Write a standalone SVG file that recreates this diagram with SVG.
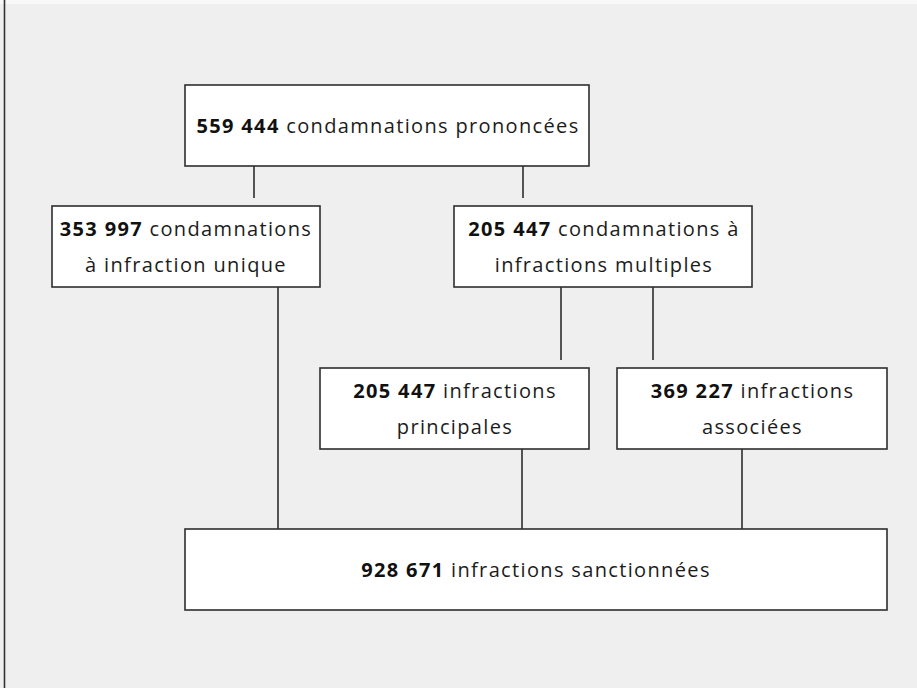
<svg xmlns="http://www.w3.org/2000/svg" width="917" height="688" viewBox="0 0 917 688">
  <style>
    .box { fill: #ffffff; stroke: #2e2e2e; stroke-width: 1.6; }
    .conn { stroke: #2e2e2e; stroke-width: 1.6; fill: none; }
    text { font-family: "Open Sans", "Noto Sans", "DejaVu Sans", sans-serif; font-size: 20px; letter-spacing: 1.35px; fill: #1c1c1c; text-anchor: middle; }
    .b { font-weight: bold; fill: #111111; }
  </style>
  <rect x="0" y="0" width="917" height="688" fill="#efefef"/>
  <rect x="0" y="0" width="917" height="4" fill="#f8f8f8"/>
  <line x1="4.5" y1="0" x2="4.5" y2="688" stroke="#333333" stroke-width="1.6"/>

  <g id="connectors">
    <line class="conn" x1="254" y1="166" x2="254" y2="198"/>
    <line class="conn" x1="523" y1="166" x2="523" y2="198"/>
    <line class="conn" x1="278" y1="287" x2="278" y2="530"/>
    <line class="conn" x1="561" y1="287" x2="561" y2="360"/>
    <line class="conn" x1="653" y1="287" x2="653" y2="360"/>
    <line class="conn" x1="522" y1="449" x2="522" y2="529"/>
    <line class="conn" x1="742" y1="449" x2="742" y2="529"/>
  </g>

  <g id="node-prononcees">
    <rect class="box" x="185" y="85" width="404" height="81"/>
    <text x="388" y="133"><tspan class="b">559 444</tspan> condamnations prononcées</text>
  </g>

  <g id="node-unique">
    <rect class="box" x="52" y="206" width="268" height="81"/>
    <text x="186" y="236"><tspan class="b">353 997</tspan> condamnations</text>
    <text x="186" y="272">à infraction unique</text>
  </g>

  <g id="node-multiples">
    <rect class="box" x="454" y="206" width="298" height="81"/>
    <text x="604" y="236"><tspan class="b">205 447</tspan> condamnations à</text>
    <text x="604" y="272">infractions multiples</text>
  </g>

  <g id="node-principales">
    <rect class="box" x="320" y="368" width="269" height="81"/>
    <text x="455" y="398"><tspan class="b">205 447</tspan> infractions</text>
    <text x="455" y="434">principales</text>
  </g>

  <g id="node-associees">
    <rect class="box" x="617" y="368" width="270" height="81"/>
    <text x="752.5" y="398"><tspan class="b">369 227</tspan> infractions</text>
    <text x="752.5" y="434">associées</text>
  </g>

  <g id="node-sanctionnees">
    <rect class="box" x="185" y="529" width="702" height="81"/>
    <text x="536" y="577"><tspan class="b">928 671</tspan> infractions sanctionnées</text>
  </g>
</svg>
